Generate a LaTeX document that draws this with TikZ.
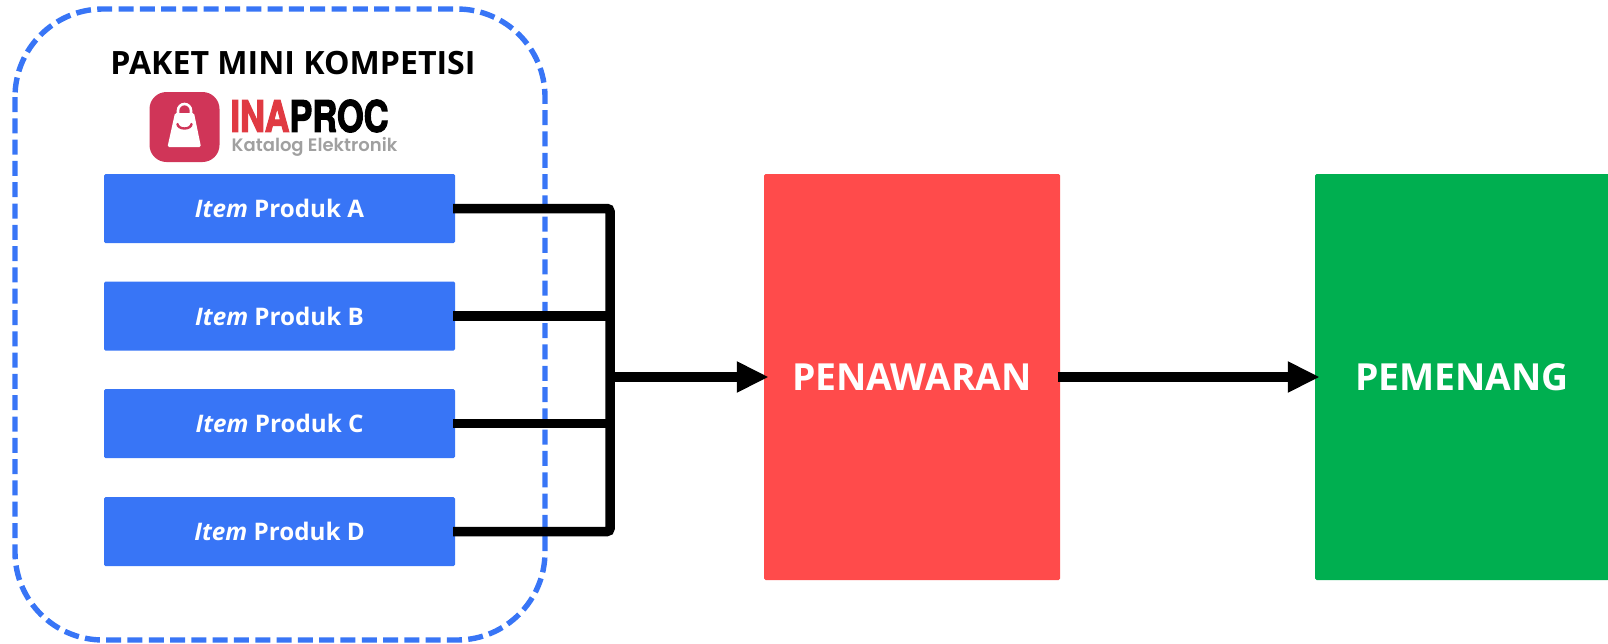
\documentclass[tikz,border=0pt]{standalone}
\usepackage{fontspec}
\setmainfont{Open Sans}
\newfontfamily\logofont[BoldFeatures={FakeBold=3}]{TeX Gyre Heros}
\newfontfamily\katalogfont{Poppins SemiBold}
\usetikzlibrary{arrows.meta}
\definecolor{itemblue}{HTML}{3875F6}
\definecolor{penred}{HTML}{FF4B4B}
\definecolor{wingreen}{HTML}{00AF50}
\definecolor{logored}{HTML}{D03558}
\definecolor{inared}{HTML}{E03A42}
\definecolor{katgray}{HTML}{A0A0A0}
\tikzset{l/.style={font=\fontsize{24.2}{24.2}\selectfont\bfseries}}
\tikzset{m/.style={font=\fontsize{37.3}{37.3}\selectfont\bfseries}}
\tikzset{itembox/.style={fill=itemblue,text=white,rounded corners=1.5pt,minimum width=351pt,minimum height=69pt,inner sep=0pt,l}}
\tikzset{bigbox/.style={text=white,rounded corners=1.5pt,minimum height=406pt,inner sep=0pt,m}}
\tikzset{wire/.style={line width=9.5pt,black}}
\tikzset{arrow/.style={wire,line width=10pt,-{Triangle[length=32pt,width=29pt]}}}

\begin{document}
\begin{tikzpicture}[x=1pt,y=-1pt]
  \useasboundingbox (0,0) rectangle (1608,643);
  \draw[itemblue,line width=5.4pt,dash pattern=on 15pt off 6.3pt,rounded corners=88pt] (15,9) rectangle (545,640);
  \node (title) at (293,63.5) {\fontsize{32.1}{32.1}\selectfont\bfseries PAKET MINI KOMPETISI};
  % logo
  \node (logo) at (184.5,127) [fill=logored,rounded corners=17pt,minimum size=70pt,inner sep=0pt] {};
  \fill[white,rounded corners=1.5pt] (175,113) -- (194,113) -- (201,147) -- (167.5,147) -- cycle;
  \draw[white,line width=2.6pt] (178,115) -- (178,110.5) arc (180:360:6.5) -- (191,115);
  \draw[logored,line width=2.4pt,line cap=round] (177.5,124) arc (180:0:7 and 4.5);
  \node (inaproc) at (309.5,116) [inner sep=0pt] {\resizebox{158pt}{32pt}{\logofont\bfseries\textcolor{inared}{INA}PROC}};
  \node (katalog) at (314.5,147) [inner sep=0pt,katgray] {\fontsize{18}{18}\selectfont\katalogfont Katalog Elektronik};
  % items
  \node (itemA) at (279.5,208.5) [itembox] {\textit{Item} Produk A};
  \node (itemB) at (279.5,316) [itembox] {\textit{Item} Produk B};
  \node (itemC) at (279.5,423.5) [itembox] {\textit{Item} Produk C};
  \node (itemD) at (279.5,531.5) [itembox] {\textit{Item} Produk D};
  \node (pen) at (912,377) [bigbox,fill=penred,minimum width=296pt] {PENAWARAN};
  \node (win) at (1462,377) [bigbox,fill=wingreen,minimum width=294pt] {PEMENANG};
  \coordinate (bus) at (610,377);
  \draw[wire,rounded corners=3pt,shorten <=-2pt,shorten >=-2pt] (itemA.east) -| (bus) |- (itemD.east);
  \draw[wire,shorten <=-2pt] (itemB.east) -- (itemB.east -| bus);
  \draw[wire,shorten <=-2pt] (itemC.east) -- (itemC.east -| bus);
  \draw[arrow,shorten >=-5pt] (bus) -- (pen.west);
  \draw[arrow,shorten <=-2pt,shorten >=-5pt] (pen.east) -- (win.west);
\end{tikzpicture}
\end{document}
